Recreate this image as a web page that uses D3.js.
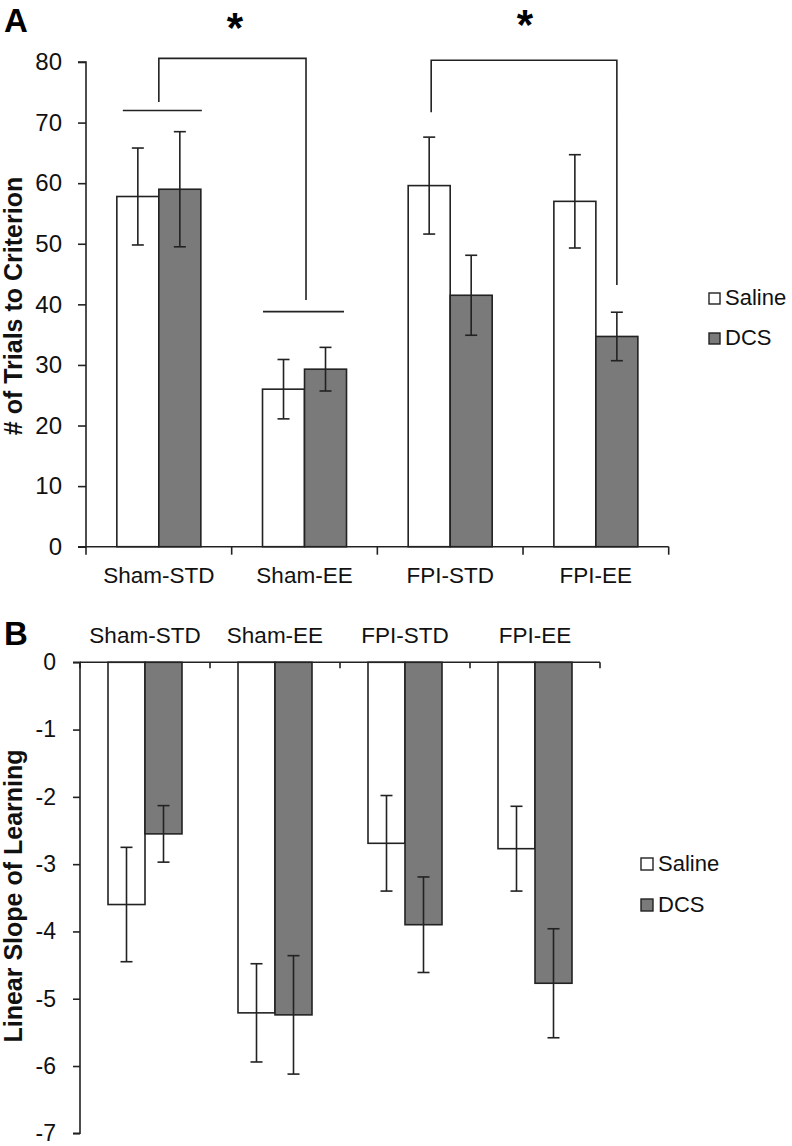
<!DOCTYPE html>
<html>
<head>
<meta charset="utf-8">
<script src="https://cdn.jsdelivr.net/npm/d3@7"></script>
<style>
  html, body { margin: 0; padding: 0; background: #fff; }
  svg { display: block; font-family: "Liberation Sans", Arial, sans-serif; }
</style>
</head>
<body>
<svg id="chart" width="792" height="1146"></svg>
<script>
// ---------- DATA ----------
const categories = ["Sham-STD", "Sham-EE", "FPI-STD", "FPI-EE"];
const seriesNames = ["Saline", "DCS"];

// Panel A: # of trials to criterion
const trialsSaline = [57.8, 26.0, 59.6, 57.0];
const trialsSalineErr = [8.0, 4.9, 8.0, 7.7];
const trialsDCS = [59.0, 29.3, 41.5, 34.7];
const trialsDCSErr = [9.5, 3.6, 6.6, 4.0];
const trialsTicks = [0, 10, 20, 30, 40, 50, 60, 70, 80];

// Panel B: linear slope of learning
const slopeSaline = [-3.60, -5.21, -2.69, -2.77];
const slopeSalineErr = [0.85, 0.73, 0.71, 0.63];
const slopeDCS = [-2.55, -5.24, -3.90, -4.77];
const slopeDCSErr = [0.42, 0.88, 0.71, 0.81];
const slopeTicks = [0, -1, -2, -3, -4, -5, -6, -7];

// ---------- STYLE ----------
const colors = { Saline: "#ffffff", DCS: "#7a7a7a" };
const ink = "#222";
const FONT = "'Liberation Sans', Arial, sans-serif";
const svg = d3.select("#chart");

function drawPanel(opt) {
  const g = svg.append("g");
  const x = d3.scaleBand().domain(categories).range(opt.xRange).paddingInner(0).paddingOuter(0);
  const bw = x.bandwidth();
  const xs = d3.scaleBand().domain(seriesNames)
    .range([bw / 2 - opt.barW, bw / 2 + opt.barW]).padding(0);
  const y = d3.scaleLinear().domain(opt.yDomain).range(opt.yRange);

  const rows = [];
  categories.forEach((c, i) => {
    rows.push({ cat: c, s: "Saline", v: opt.sal[i], e: opt.salErr[i] });
    rows.push({ cat: c, s: "DCS", v: opt.dcs[i], e: opt.dcsErr[i] });
  });

  // bars
  g.selectAll("rect.bar").data(rows).join("rect")
    .attr("class", "bar")
    .attr("x", d => x(d.cat) + xs(d.s))
    .attr("width", xs.bandwidth())
    .attr("y", d => Math.min(y(d.v), y(0)))
    .attr("height", d => Math.abs(y(d.v) - y(0)))
    .attr("fill", d => colors[d.s])
    .attr("stroke", ink).attr("stroke-width", 1.6);

  // error bars
  const cap = 6;
  const eg = g.selectAll("g.err").data(rows).join("g").attr("class", "err")
    .attr("stroke", ink).attr("stroke-width", 1.6);
  eg.append("line")
    .attr("x1", d => x(d.cat) + xs(d.s) + xs.bandwidth() / 2)
    .attr("x2", d => x(d.cat) + xs(d.s) + xs.bandwidth() / 2)
    .attr("y1", d => y(d.v - d.e)).attr("y2", d => y(d.v + d.e));
  [-1, 1].forEach(sg => {
    eg.append("line")
      .attr("x1", d => x(d.cat) + xs(d.s) + xs.bandwidth() / 2 - cap)
      .attr("x2", d => x(d.cat) + xs(d.s) + xs.bandwidth() / 2 + cap)
      .attr("y1", d => y(d.v + sg * d.e)).attr("y2", d => y(d.v + sg * d.e));
  });

  // y axis
  const yAxis = d3.axisLeft(y).tickValues(opt.ticks).tickSize(opt.yTick).tickPadding(opt.tickPad)
    .tickFormat(d => String(d));
  const ya = g.append("g").attr("transform", `translate(${opt.xRange[0]},0)`).call(yAxis);
  ya.attr("font-family", FONT);
  ya.select(".domain").attr("stroke", ink).attr("stroke-width", 1.6)
    .attr("d", `M${-opt.yTick},${y(opt.yDomain[0])}H0V${y(opt.yDomain[1])}H${-opt.yTick}`);
  ya.selectAll(".tick line").attr("stroke", ink).attr("stroke-width", 1.6);
  ya.selectAll(".tick text").attr("font-size", opt.tickFont).attr("fill", "#111");

  // x axis (boundary ticks)
  const y0 = y(0);
  const xa = g.append("g").attr("stroke", ink).attr("stroke-width", 1.6);
  xa.append("line").attr("x1", opt.xRange[0]).attr("x2", opt.xRange[1])
    .attr("y1", y0).attr("y2", y0);
  const bounds = categories.map(c => x(c)).concat([x(categories[categories.length - 1]) + bw]);
  xa.selectAll("line.bt").data(bounds).join("line").attr("class", "bt")
    .attr("x1", d => d).attr("x2", d => d)
    .attr("y1", y0).attr("y2", y0 + opt.xTick);

  // category labels
  g.selectAll("text.cat").data(categories).join("text").attr("class", "cat")
    .attr("x", d => x(d) + bw / 2).attr("y", opt.catY)
    .attr("text-anchor", "middle").attr("font-size", opt.catFont).attr("fill", "#111")
    .text(d => d);

  // y title
  g.append("text")
    .attr("transform", `translate(${opt.titleX},${opt.titleY}) rotate(-90)`)
    .attr("text-anchor", "middle").attr("font-size", 25).attr("font-weight", "bold")
    .attr("fill", "#111").text(opt.title);

  // panel letter
  g.append("text").attr("x", 4).attr("y", opt.letterY)
    .attr("font-size", 33).attr("font-weight", "bold").attr("fill", "#000").text(opt.letter);

  // legend
  const lg = g.append("g");
  seriesNames.forEach((s, i) => {
    const ly = opt.legY + i * opt.legGap;
    lg.append("rect").attr("x", opt.legX).attr("y", ly - opt.legSq - 1)
      .attr("width", opt.legSq).attr("height", opt.legSq)
      .attr("fill", colors[s]).attr("stroke", ink).attr("stroke-width", 1.4);
    lg.append("text").attr("x", opt.legX + opt.legSq + 5).attr("y", ly)
      .attr("font-size", 22).attr("fill", "#111").text(s);
  });

  return { x, xs, y, bw };
}

// Panel A
const A = drawPanel({
  xRange: [86, 668.7], yDomain: [0, 80], yRange: [546.7, 62],
  barW: 42, sal: trialsSaline, salErr: trialsSalineErr, dcs: trialsDCS, dcsErr: trialsDCSErr,
  ticks: trialsTicks, yTick: 8, xTick: 8, tickPad: 16, tickFont: 24, catFont: 22.5, catY: 583,
  title: "# of Trials to Criterion", titleX: 22, titleY: 306,
  letter: "A", letterY: 32, legX: 709, legY: 305, legGap: 40, legSq: 11
});

// Panel B
const B = drawPanel({
  xRange: [80, 600], yDomain: [-7, 0], yRange: [1133.3, 662.3],
  barW: 37, sal: slopeSaline, salErr: slopeSalineErr, dcs: slopeDCS, dcsErr: slopeDCSErr,
  ticks: slopeTicks, yTick: 7, xTick: 6, tickPad: 17, tickFont: 23, catFont: 22.5, catY: 643,
  title: "Linear Slope of Learning", titleX: 22, titleY: 896,
  letter: "B", letterY: 645, legX: 641, legY: 871, legGap: 41, legSq: 12
});

// ---------- significance brackets (panel A) ----------
const brackets = [
  { from: "Sham-STD", to: "Sham-EE", top: 80.6, leftEnd: 73.4, rightEnd: 40.7, lineL: 72.0, lineR: 38.8, starX: 235, starY: 42 },
  { from: "FPI-STD", to: "FPI-EE", top: 80.3, leftEnd: 71.7, rightEnd: 43.2, lineL: null, lineR: null, starX: 525, starY: 39 }
];
const bg = svg.append("g").attr("stroke", ink).attr("stroke-width", 1.6).attr("fill", "none");
brackets.forEach(b => {
  let xl, xr;
  if (b.lineL !== null) {
    xl = A.x(b.from) + A.bw / 2;
    xr = A.x(b.to) + A.bw / 2 + 1.5;
    bg.append("line").attr("x1", xl - 36).attr("x2", xl + 43)
      .attr("y1", A.y(b.lineL)).attr("y2", A.y(b.lineL));
    bg.append("line").attr("x1", xr - 43).attr("x2", xr + 38)
      .attr("y1", A.y(b.lineR)).attr("y2", A.y(b.lineR));
  } else {
    xl = A.x(b.from) + A.xs("Saline") + A.xs.bandwidth() / 2 + 2;
    xr = A.x(b.to) + A.xs("DCS") + A.xs.bandwidth() / 2;
  }
  bg.append("path").attr("d",
    `M${xl},${A.y(b.leftEnd)}V${A.y(b.top)}H${xr}V${A.y(b.rightEnd)}`);
  svg.append("text").attr("x", b.starX).attr("y", b.starY)
    .attr("text-anchor", "middle").attr("font-size", 42).attr("font-weight", "bold")
    .attr("fill", "#000").text("*");
});
</script>
</body>
</html>
